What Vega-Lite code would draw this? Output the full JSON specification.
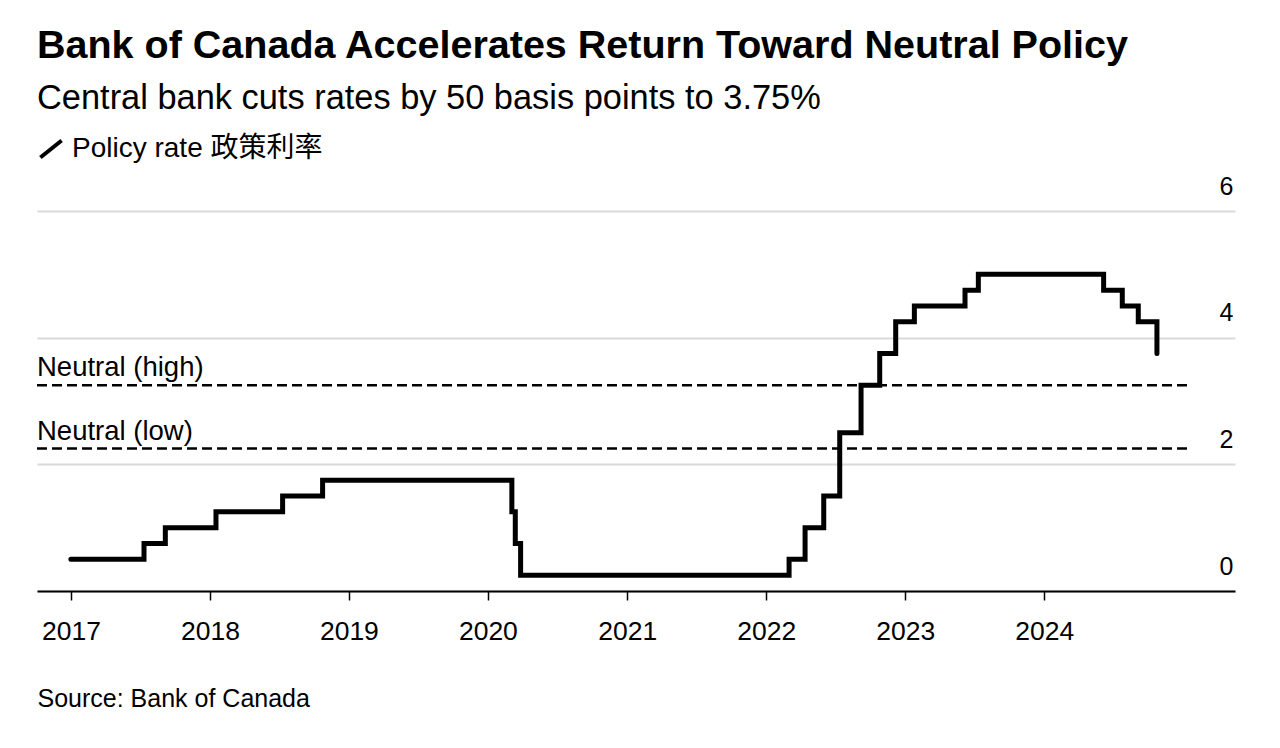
{
  "$schema": "https://vega.github.io/schema/vega-lite/v6.json",
  "width": 1198,
  "height": 380,
  "autosize": {"type": "none"},
  "padding": {"left": 37, "top": 211, "right": 45, "bottom": 157},
  "background": "#ffffff",
  "config": {
    "font": "Liberation Sans",
    "view": {"stroke": null},
    "axis": {"labelColor": "#000000", "labelFont": "Liberation Sans", "titleFont": "Liberation Sans"}
  },
  "title": {
    "text": "Bank of Canada Accelerates Return Toward Neutral Policy",
    "subtitle": "Central bank cuts rates by 50 basis points to 3.75%",
    "anchor": "start",
    "frame": "group",
    "font": "Liberation Sans",
    "fontSize": 39.5,
    "fontWeight": "bold",
    "color": "#000000",
    "subtitleFont": "Liberation Sans",
    "subtitleFontSize": 34.4,
    "subtitleColor": "#000000",
    "subtitlePadding": 15,
    "offset": 19
  },
  "datasets": {
    "rate": [
      {"date": "2017-01-01", "rate": 0.5},
      {"date": "2017-07-12", "rate": 0.75},
      {"date": "2017-09-06", "rate": 1.0},
      {"date": "2018-01-17", "rate": 1.25},
      {"date": "2018-07-11", "rate": 1.5},
      {"date": "2018-10-24", "rate": 1.75},
      {"date": "2020-03-04", "rate": 1.25},
      {"date": "2020-03-13", "rate": 0.75},
      {"date": "2020-03-27", "rate": 0.25},
      {"date": "2022-03-02", "rate": 0.5},
      {"date": "2022-04-13", "rate": 1.0},
      {"date": "2022-06-01", "rate": 1.5},
      {"date": "2022-07-13", "rate": 2.5},
      {"date": "2022-09-07", "rate": 3.25},
      {"date": "2022-10-26", "rate": 3.75},
      {"date": "2022-12-07", "rate": 4.25},
      {"date": "2023-01-25", "rate": 4.5},
      {"date": "2023-06-07", "rate": 4.75},
      {"date": "2023-07-12", "rate": 5.0},
      {"date": "2024-06-05", "rate": 4.75},
      {"date": "2024-07-24", "rate": 4.5},
      {"date": "2024-09-04", "rate": 4.25},
      {"date": "2024-10-23", "rate": 3.75}
    ],
    "neutral": [
      {"label": "Neutral (high)", "start": "2016-10-04", "end": "2025-01-20", "value": 3.25},
      {"label": "Neutral (low)", "start": "2016-10-04", "end": "2025-01-20", "value": 2.25}
    ]
  },
  "encoding": {
    "y": {
      "type": "quantitative",
      "scale": {"domain": [0, 6], "nice": false, "zero": false},
      "axis": {
        "orient": "right",
        "title": null,
        "values": [0, 2, 4, 6],
        "domain": false,
        "ticks": false,
        "tickSize": 0,
        "grid": true,
        "gridColor": "#d9d9d9",
        "gridWidth": 2,
        "labelAlign": "right",
        "labelBaseline": "alphabetic",
        "labelPadding": -2,
        "labelOffset": -17,
        "labelFontSize": 25,
        "labelColor": "#000000"
      }
    }
  },
  "layer": [
    {
      "data": {"name": "neutral"},
      "mark": {"type": "rule", "strokeDash": [10, 5], "strokeWidth": 2.5, "color": "#000000"},
      "encoding": {
        "x": {"field": "start", "type": "temporal", "scale": {"type": "utc"}},
        "x2": {"field": "end"},
        "y": {"field": "value", "type": "quantitative"}
      }
    },
    {
      "data": {"name": "neutral"},
      "mark": {"type": "text", "align": "left", "baseline": "alphabetic", "dy": -9, "fontSize": 27.5, "font": "Liberation Sans", "color": "#000000"},
      "encoding": {
        "x": {"field": "start", "type": "temporal", "scale": {"type": "utc"}},
        "y": {"field": "value", "type": "quantitative"},
        "text": {"field": "label"}
      }
    },
    {
      "data": {"name": "rate"},
      "mark": {"type": "line", "interpolate": "step-after", "strokeWidth": 5, "strokeCap": "round", "strokeJoin": "miter"},
      "encoding": {
        "x": {
          "field": "date",
          "type": "temporal",
          "scale": {"type": "utc", "domain": [{"year": 2016, "month": 10, "date": 4, "utc": true}, {"year": 2025, "month": 5, "date": 16, "utc": true}]},
          "axis": {
            "title": "Source: Bank of Canada",
            "titleAnchor": "start",
            "titleAlign": "left",
            "titleBaseline": "alphabetic",
            "titleX": 0,
            "titleY": 115,
            "titleFontSize": 25,
            "titleFontWeight": "normal",
            "titleColor": "#000000",
            "values": [
              {"year": 2017, "utc": true}, {"year": 2018, "utc": true}, {"year": 2019, "utc": true}, {"year": 2020, "utc": true},
              {"year": 2021, "utc": true}, {"year": 2022, "utc": true}, {"year": 2023, "utc": true}, {"year": 2024, "utc": true}
            ],
            "format": "%Y",
            "formatType": "utc",
            "grid": false,
            "domain": true,
            "domainColor": "#000000",
            "domainWidth": 2,
            "ticks": true,
            "tickColor": "#000000",
            "tickWidth": 1.5,
            "tickSize": 9,
            "labelPadding": 18,
            "labelFontSize": 26.5,
            "labelColor": "#000000",
            "labelBaseline": "top"
          }
        },
        "y": {"field": "rate", "type": "quantitative"},
        "color": {
          "datum": "Policy rate 政策利率",
          "type": "nominal",
          "scale": {"range": ["#000000"]},
          "legend": {
            "title": null,
            "orient": "none",
            "legendX": 0,
            "legendY": -76,
            "symbolType": "M-1,0.8L1,-0.8",
            "symbolSize": 450,
            "symbolStrokeWidth": 4,
            "symbolStrokeColor": "#000000",
            "labelFontSize": 28,
            "labelLimit": 500,
            "labelFont": "Liberation Sans, Noto Sans CJK SC",
            "labelColor": "#000000",
            "labelOffset": 7
          }
        }
      }
    }
  ]
}
